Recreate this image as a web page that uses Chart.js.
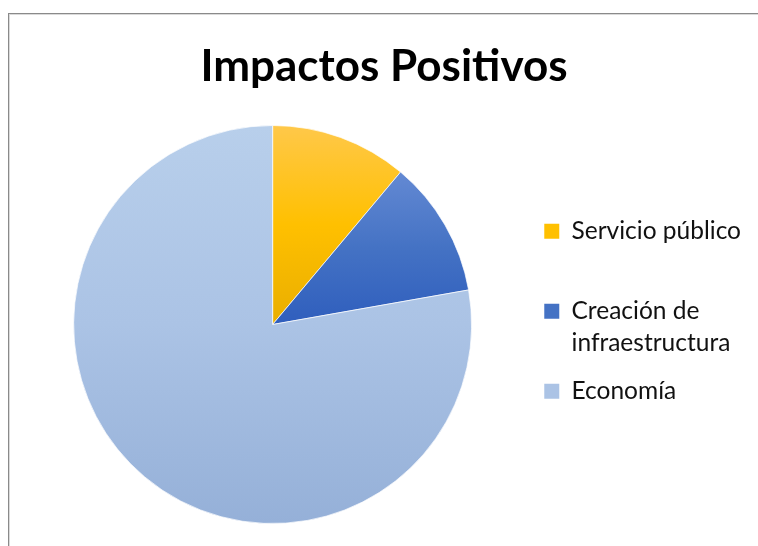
<!DOCTYPE html>
<html>
<head>
<meta charset="utf-8">
<script src="https://cdn.jsdelivr.net/npm/chart.js@4"></script>
<style>
html, body { margin: 0; padding: 0; background: #fff; overflow: hidden; width: 758px; height: 546px; }
#marco { position: absolute; left: 8px; top: 13px; width: 760px; height: 540px; border: 1px solid #8a8a8a; box-shadow: inset 1px 1px 0 #dadada; }
#marco canvas { position: absolute; left: 0; top: 0; }
</style>
</head>
<body>
<div id="marco"><canvas id="myChart" width="760" height="532" style="width:760px;height:532px"></canvas></div>
<script>
const titulo = 'Impactos Positivos';
const categorias = ['Servicio público', 'Creación de infraestructura', 'Economía'];
const valores = [1, 1, 7];
// texto de la leyenda partido en líneas como en el original
const lineasLeyenda = [['Servicio público', ''], ['Creación de', 'infraestructura'], ['Economía', '']];

// colores: arriba, medio, abajo (degradado vertical como en Excel)
const coloresArriba = ['#ffc84a', '#6389d3', '#b8cfeb'];
const coloresMedio = ['#ffc000', '#4472c4', '#abc3e5'];
const coloresAbajo = ['#e9ae00', '#2f5ebd', '#95b0d8'];
// tramo vertical de cada sector, en radios respecto al centro
const tramoDesde = [-1, -0.76, -1];
const tramoHasta = [0, 0, 1];

function degradado(context) {
    const chart = context.chart;
    const area = chart.chartArea;
    const i = context.dataIndex;
    if (!area) return coloresMedio[i];
    const cy = (area.top + area.bottom) / 2;
    const r = Math.min(area.right - area.left, area.bottom - area.top) / 2;
    const g = chart.ctx.createLinearGradient(0, cy + tramoDesde[i] * r, 0, cy + tramoHasta[i] * r);
    g.addColorStop(0, coloresArriba[i]);
    g.addColorStop(0.5, coloresMedio[i]);
    g.addColorStop(1, coloresAbajo[i]);
    return g;
}

new Chart('myChart', {
    type: 'pie',
    data: {
        labels: categorias,
        datasets: [{
            data: valores,
            backgroundColor: degradado,
            borderColor: 'rgba(255,255,255,0.7)',
            borderWidth: 1
        }]
    },
    options: {
        responsive: false,
        animation: false,
        layout: { padding: { left: 8, right: 18, top: 0, bottom: 22 } },
        plugins: {
            tooltip: { enabled: false },
            title: {
                display: true,
                text: titulo,
                color: '#000',
                font: { family: 'Lato', size: 44, weight: 'bold' },
                padding: { top: 26.6, bottom: 31.6 }
            },
            legend: {
                display: true,
                position: 'right',
                title: {
                    display: true,
                    text: ' ',
                    font: { size: 10, lineHeight: '10px' },
                    padding: { top: 114, bottom: 0 }
                },
                labels: {
                    color: '#111',
                    font: { family: 'Lato', size: 24.5, lineHeight: '32px' },
                    boxWidth: 15,
                    boxHeight: 15,
                    padding: 16,
                    generateLabels: function(chart) {
                        return categorias.map((c, i) => ({
                            text: lineasLeyenda[i],
                            fillStyle: coloresMedio[i],
                            strokeStyle: coloresMedio[i],
                            lineWidth: 0,
                            fontColor: '#111',
                            hidden: false,
                            index: i
                        }));
                    }
                }
            }
        }
    }
});
</script>
</body>
</html>
